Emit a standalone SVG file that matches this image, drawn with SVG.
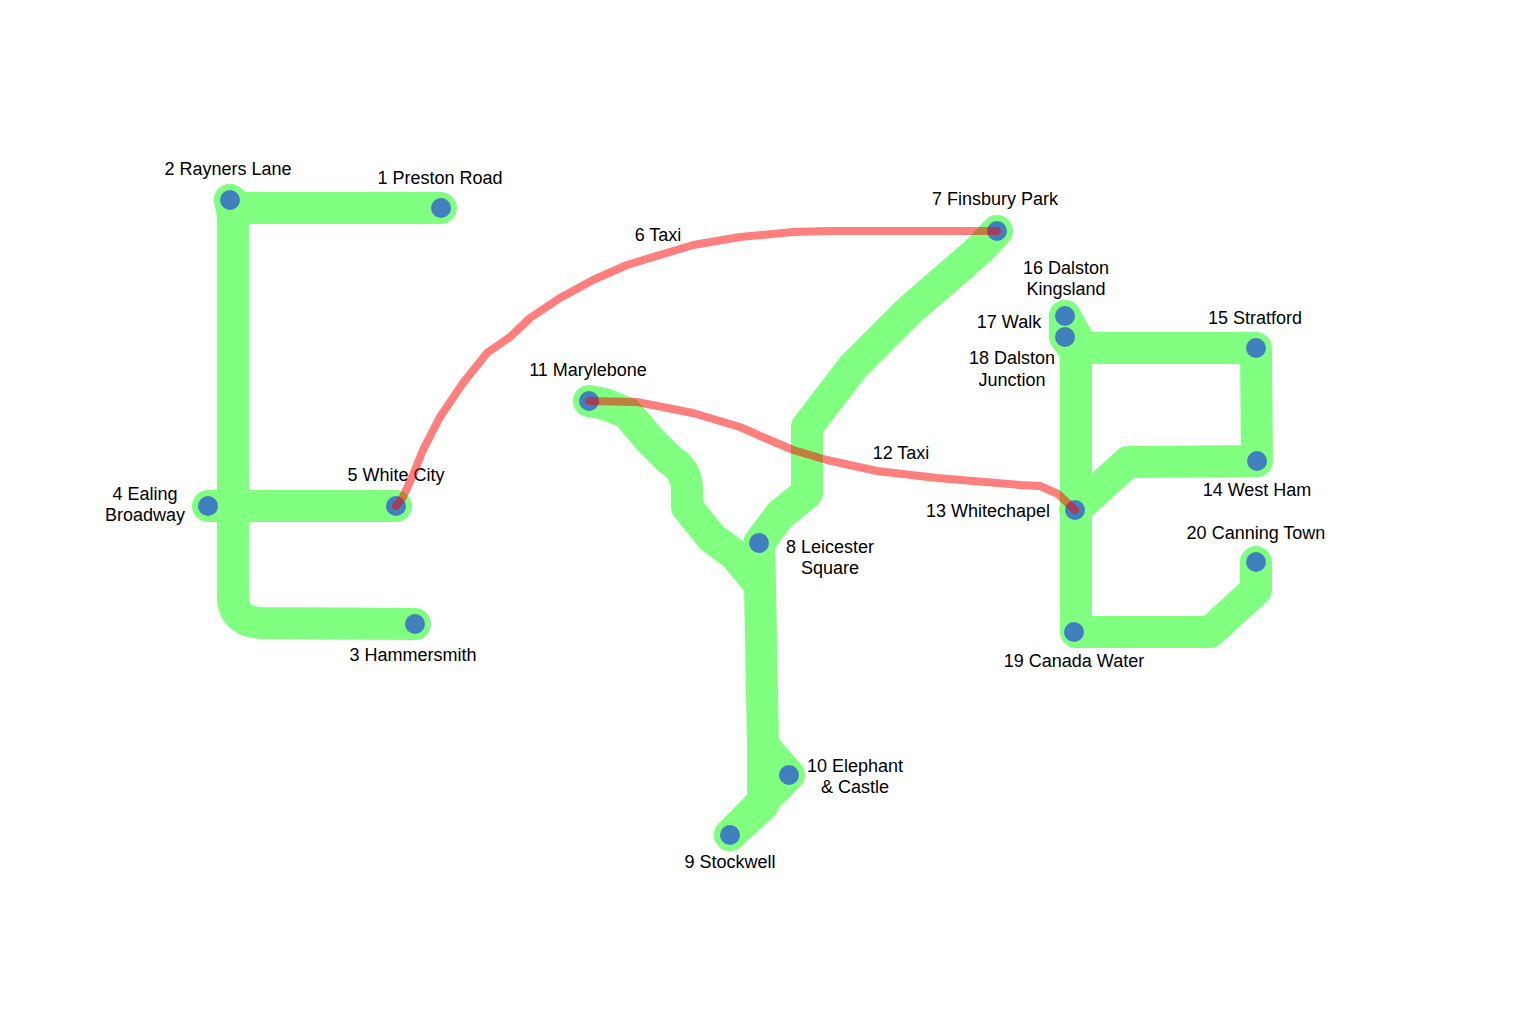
<svg xmlns="http://www.w3.org/2000/svg" width="1514" height="1014" viewBox="0 0 1514 1014">
<style>
.track{fill:none;stroke:#80FF80;stroke-width:32;stroke-linecap:round;stroke-linejoin:round}
.taxi{fill:none;stroke:rgba(255,0,0,0.5);stroke-width:8;stroke-linecap:round;stroke-linejoin:round}
.dot{fill:#4080BF}
text{font-family:"Liberation Sans",Arial,sans-serif;font-size:18px;fill:#000;text-anchor:middle}
</style>
<rect width="1514" height="1014" fill="#fff"/>
<g id="connectors">
<path class="track" d="M230,200 L240,208 L441,208"/>
<path class="track" d="M230,200 L233,215 L233,596 Q233,622 262,623 L415,624"/>
<path class="track" d="M208,506 L396,506"/>
<path class="track" d="M589,401 L605,404 L627,413 L650,440 L670,460 Q687,470 687,490 L687,507 L712,538 L735,555 L760,585 L763,745 L789,775 L730,835"/>
<path class="track" d="M763,745 L763,805 L730,835"/>
<path class="track" d="M760,585 L759,543 L780,515 L807,493 L807,427 L853,367 L910,310 L977,252 L997,231"/>
<path class="track" d="M1065,316 L1083,348 L1256,348 L1257,461 L1128,462 L1075,510"/>
<path class="track" d="M1065,316 L1065,337 L1076,352 L1076,632 L1210,632 L1245,600 L1256,590 L1256,562"/>
</g>
<g id="n1"><circle class="dot" cx="441" cy="208" r="10"/><text x="440" y="184">1 Preston Road</text></g>
<g id="n2"><circle class="dot" cx="230" cy="200" r="10"/><text x="228" y="175">2 Rayners Lane</text></g>
<g id="n3"><circle class="dot" cx="415" cy="624" r="10"/><text x="413" y="661">3 Hammersmith</text></g>
<g id="n4"><circle class="dot" cx="208" cy="506" r="10"/><text x="145" y="500">4 Ealing</text><text x="145" y="521">Broadway</text></g>
<g id="n5"><circle class="dot" cx="396" cy="506" r="10"/><text x="396" y="481">5 White City</text></g>
<g id="n7"><circle class="dot" cx="997" cy="231" r="10"/><text x="995" y="205">7 Finsbury Park</text></g>
<g id="n8"><circle class="dot" cx="759" cy="543" r="10"/><text x="830" y="553">8 Leicester</text><text x="830" y="574">Square</text></g>
<g id="n9"><circle class="dot" cx="730" cy="835" r="10"/><text x="730" y="868">9 Stockwell</text></g>
<g id="n10"><circle class="dot" cx="789" cy="775" r="10"/><text x="855" y="772">10 Elephant</text><text x="855" y="793">&amp; Castle</text></g>
<g id="n11"><circle class="dot" cx="589" cy="401" r="10"/><text x="588" y="376">11 Marylebone</text></g>
<g id="n13"><circle class="dot" cx="1075" cy="510" r="10"/><text x="988" y="517">13 Whitechapel</text></g>
<g id="n14"><circle class="dot" cx="1257" cy="461" r="10"/><text x="1257" y="496">14 West Ham</text></g>
<g id="n15"><circle class="dot" cx="1256" cy="348" r="10"/><text x="1255" y="324">15 Stratford</text></g>
<g id="n16"><circle class="dot" cx="1065" cy="316" r="10"/><text x="1066" y="274">16 Dalston</text><text x="1066" y="295">Kingsland</text></g>
<g id="n17"><text x="1009" y="328">17 Walk</text></g>
<g id="n18"><circle class="dot" cx="1065" cy="337" r="10"/><text x="1012" y="364">18 Dalston</text><text x="1012" y="386">Junction</text></g>
<g id="n19"><circle class="dot" cx="1074" cy="632" r="10"/><text x="1074" y="667">19 Canada Water</text></g>
<g id="n20"><circle class="dot" cx="1256" cy="562" r="10"/><text x="1256" y="539">20 Canning Town</text></g>
<g id="taxi-connectors">
<path class="taxi" d="M396,506 L403,497 L413,475 L423,450 L440,417 L463,383 L487,353 L510,337 L530,318 L560,298 L593,280 L627,265 L660,255 L693,245 L740,237 L793,232 L827,231 L997,231"/>
<text x="658" y="241">6 Taxi</text>
<path class="taxi" d="M589,401 L637,402 L693,413 L740,427 L765,438 L793,450 L827,460 L877,471 L937,478 L1020,485 L1040,486 L1058,494 L1075,510"/>
<text x="901" y="459">12 Taxi</text>
</g>
</svg>
